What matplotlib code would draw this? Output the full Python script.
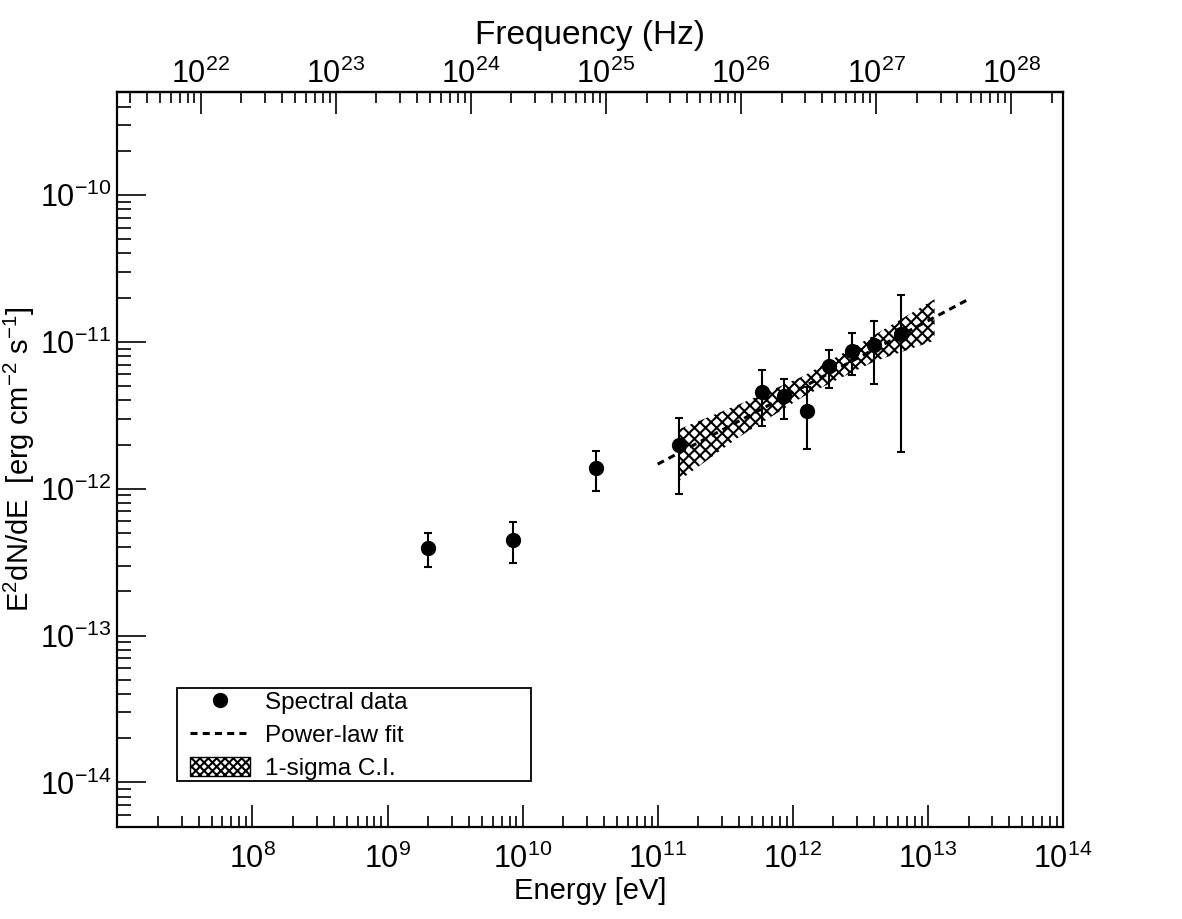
import matplotlib
matplotlib.use('Agg')
import matplotlib.pyplot as plt
import matplotlib.patches as mpatches
import matplotlib.lines as mlines
from matplotlib.ticker import LogLocator, NullFormatter, FixedLocator

plt.rcParams['font.family'] = ['Liberation Sans', 'DejaVu Sans']
plt.rcParams['mathtext.fontset'] = 'custom'
plt.rcParams['mathtext.rm'] = 'Liberation Sans'
plt.rcParams['mathtext.it'] = 'Liberation Sans:italic'
plt.rcParams['hatch.linewidth'] = 1.5

# spectral points (eV, erg cm-2 s-1)
energy = [2.01e9, 8.45e9, 3.49e10, 1.45e11, 5.89e11, 8.61e11, 1.27e12,
          1.85e12, 2.72e12, 4.00e12, 6.34e12]
flux = [3.93e-13, 4.51e-13, 1.39e-12, 2.00e-12, 4.54e-12, 4.27e-12, 3.36e-12,
        6.80e-12, 8.69e-12, 9.46e-12, 1.13e-11]
flux_hi = [4.98e-13, 5.89e-13, 1.81e-12, 3.05e-12, 6.45e-12, 5.57e-12, 4.89e-12,
           8.79e-12, 1.15e-11, 1.38e-11, 2.07e-11]
flux_lo = [2.92e-13, 3.11e-13, 9.66e-13, 9.18e-13, 2.68e-12, 2.97e-12, 1.85e-12,
           4.82e-12, 5.93e-12, 5.13e-12, 1.78e-12]

# power-law fit end points
fit_e = [1.0e11, 2.0e13]
fit_f = [1.47e-12, 1.95e-11]

# 1-sigma band (bow-tie)
band_e = [1.45e11, 4.0e11, 1.2e12, 4.0e12, 1.12e13]
band_lo = [1.14e-12, 2.25e-12, 4.25e-12, 7.35e-12, 1.02e-11]
band_hi = [2.55e-12, 3.75e-12, 5.85e-12, 1.11e-11, 1.95e-11]

freq_ticks = [1e22, 1e23, 1e24, 1e25, 1e26, 1e27, 1e28]

h_ev = 4.135667e-15  # eV s

fig = plt.figure(figsize=(11.82, 9.19), dpi=100)
ax = fig.add_axes([0.09924, 0.10043, 0.80008, 0.79913])

ax.fill_between(band_e, band_lo, band_hi, facecolor='none', edgecolor='black',
                hatch='xxx', linewidth=0, zorder=2)
ax.plot(fit_e, fit_f, color='black', lw=2.2, linestyle=(0, (2.3, 1.7)), zorder=3)

yerr = [[f - l for f, l in zip(flux, flux_lo)], [h - f for f, h in zip(flux, flux_hi)]]
ax.errorbar(energy, flux, yerr=yerr, fmt='o', color='black', ms=10,
            elinewidth=1.5, capsize=3, capthick=1.5, zorder=4)

ax.set_xscale('log')
ax.set_yscale('log')
ax.set_xlim(1e7, 1e14)
ax.set_ylim(5e-15, 5e-10)

ax.set_xticks([1e8, 1e9, 1e10, 1e11, 1e12, 1e13, 1e14])
ax.xaxis.set_minor_locator(LogLocator(base=10, subs=range(2, 10), numticks=30))
ax.xaxis.set_minor_formatter(NullFormatter())
ax.set_yticks([1e-14, 1e-13, 1e-12, 1e-11, 1e-10])
ax.yaxis.set_minor_locator(LogLocator(base=10, subs=range(2, 10), numticks=30))
ax.yaxis.set_minor_formatter(NullFormatter())

ax.tick_params(axis='x', which='major', direction='in', length=16, width=1.2,
               labelsize=22, pad=12, top=False)
ax.tick_params(axis='x', which='minor', direction='in', length=8, width=1.2, top=False)
ax.tick_params(axis='y', which='major', direction='in', length=21, width=1.2,
               labelsize=22, pad=4, right=False)
ax.tick_params(axis='y', which='minor', direction='in', length=10, width=1.2, right=False)
for s in ax.spines.values():
    s.set_linewidth(1.6)

ax.set_xlabel('Energy [eV]', fontsize=21, labelpad=2)
ax.set_ylabel(r'E$^{2}$dN/dE  [erg cm$^{-2}$ s$^{-1}$]', fontsize=21, labelpad=2)

secax = ax.secondary_xaxis('top', functions=(lambda e: e / h_ev, lambda f: f * h_ev))
secax.xaxis.set_major_locator(FixedLocator(freq_ticks))
secax.xaxis.set_minor_locator(LogLocator(base=10, subs=range(2, 10), numticks=60))
secax.xaxis.set_minor_formatter(NullFormatter())
secax.tick_params(axis='x', which='major', direction='in', length=16, width=1.2,
                  labelsize=22, pad=2)
secax.tick_params(axis='x', which='minor', direction='in', length=8, width=1.2)
secax.spines['top'].set_linewidth(1.6)
secax.set_xlabel('Frequency (Hz)', fontsize=24, labelpad=10)

# legend frame drawn separately so the entries can sit where the reference has them
ax.add_patch(mpatches.Rectangle((0.0631, 0.0622), 0.3744, 0.1267, transform=ax.transAxes,
                                facecolor='white', edgecolor='black', lw=1.3, zorder=5))
h_data = mlines.Line2D([], [], color='black', marker='o', ms=10, linestyle='none')
h_fit = mlines.Line2D([], [], color='black', lw=2.2, linestyle=(0, (2.3, 1.7)))
h_band = mpatches.Patch(facecolor='white', edgecolor='black', hatch='xxxx', lw=1)
leg = ax.legend([h_data, h_fit, h_band], ['Spectral data', 'Power-law fit', '1-sigma C.I.'],
                loc='lower left', bbox_to_anchor=(0.0769, 0.064),
                fontsize=17.5, frameon=False, borderaxespad=0, borderpad=0,
                labelspacing=0.41, handlelength=2.47, handleheight=0.85,
                handletextpad=0.62)
leg.set_zorder(6)

fig.savefig('out.png', dpi=100)
